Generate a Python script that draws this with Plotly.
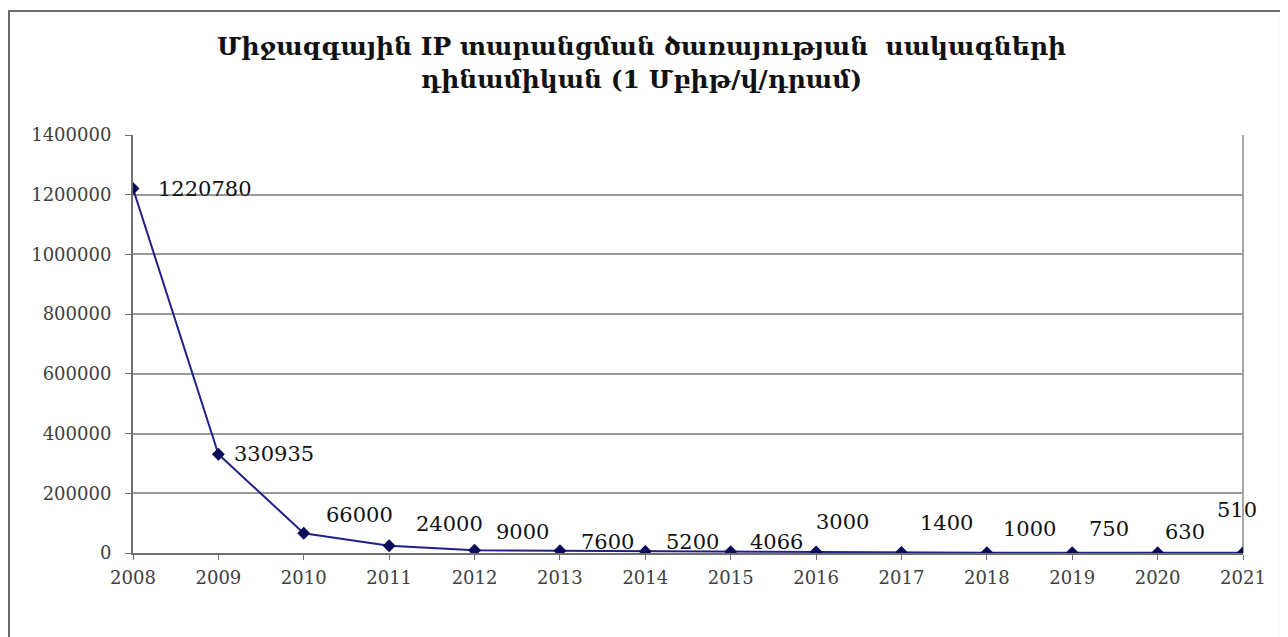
import plotly.graph_objects as go

years = [2008, 2009, 2010, 2011, 2012, 2013, 2014, 2015, 2016, 2017, 2018, 2019, 2020, 2021]
prices = [1220780, 330935, 66000, 24000, 9000, 7600, 5200, 4066, 3000, 1400, 1000, 750, 630, 510]
y_ticks = [0, 200000, 400000, 600000, 800000, 1000000, 1200000, 1400000]
title_text = "Միջազգային IP տարանցման ծառայության  սակագների<br>դինամիկան (1 Մբիթ/վ/դրամ)"

# label offsets in pixels (style only)
label_dx = [72, 56, 56, 60, 48, 48, 47, 46, 26, 45, 43, 37, 27, -6]
label_dy = [0, 0, 18, 22, 18, 9, 9, 10, 30, 30, 24, 24, 21, 43]

FONT = "DejaVu Serif"

fig = go.Figure()
fig.add_trace(go.Scatter(
    x=years, y=prices, mode="lines+markers",
    line=dict(color="#20208a", width=2),
    marker=dict(symbol="diamond", size=10, color="#0a0a5a"),
    showlegend=False, hoverinfo="x+y",
))

for x, y, dx, dy in zip(years, prices, label_dx, label_dy):
    fig.add_annotation(x=x, y=y, text=str(y), showarrow=False,
                       xshift=dx, yshift=dy,
                       font=dict(family=FONT, size=21, color="#111111"))

fig.update_layout(
    width=1280, height=629,
    margin=dict(l=125, r=45, t=127, b=84),
    paper_bgcolor="white", plot_bgcolor="white",
    title=dict(text="<b>" + title_text + "</b>", x=0.495, xanchor="center",
               y=0.925, yanchor="middle",
               font=dict(family=FONT, size=25, color="#111111")),
    xaxis=dict(range=[2008, 2021], tickmode="array", tickvals=years,
               ticktext=[str(v) for v in years],
               showgrid=False, zeroline=False,
               showline=True, linecolor="#707070", linewidth=2,
               ticks="outside", ticklen=5, tickcolor="#707070",
               ticklabelstandoff=2,
               tickfont=dict(family=FONT, size=18, color="#404040")),
    yaxis=dict(range=[0, 1400000], tickmode="array", tickvals=y_ticks,
               ticktext=[str(v) for v in y_ticks],
               showgrid=True, gridcolor="#9a9a9a", gridwidth=2,
               zeroline=False,
               showline=True, linecolor="#707070", linewidth=2,
               ticks="outside", ticklen=6, tickcolor="#707070",
               ticklabelstandoff=10,
               tickfont=dict(family=FONT, size=18, color="#404040")),
)

# right edge of plot area
fig.add_shape(type="line", xref="paper", yref="paper", x0=1, x1=1, y0=0, y1=1,
              line=dict(color="#8a8a8a", width=1.5), layer="below")
# outer chart border
fig.add_shape(type="rect", xref="paper", yref="paper",
              x0=-0.1117, x1=1.0342, y0=-0.215, y1=1.2967,
              line=dict(color="#6a6a6a", width=2))

fig.write_html("out.html")
